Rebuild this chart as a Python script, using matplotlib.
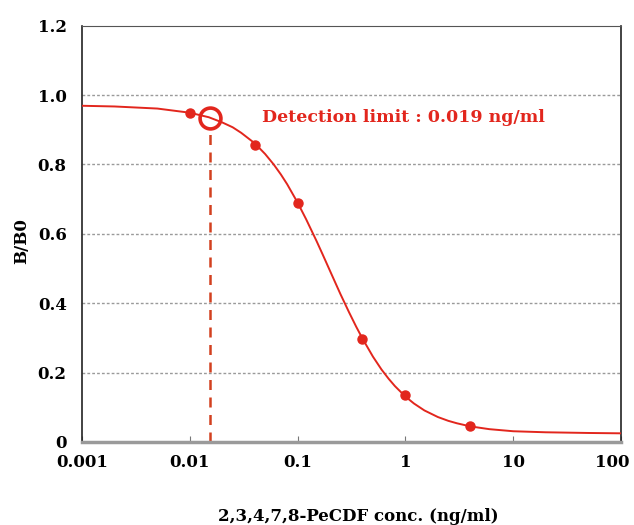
import numpy as np
import matplotlib.pyplot as plt
from matplotlib.transforms import ScaledTranslation

# standards (conc. in ng/ml) and measured B/B0
conc = [0.01, 0.04, 0.1, 0.4, 1, 4]
bb0 = [0.948, 0.856, 0.689, 0.297, 0.135, 0.046]

# fitted curve
curve_x = [0.001, 0.002, 0.005, 0.01, 0.015, 0.02, 0.025, 0.03, 0.04, 0.05,
           0.06, 0.07, 0.08, 0.1, 0.12, 0.15, 0.17, 0.2, 0.23, 0.25,
           0.3, 0.35, 0.4, 0.5, 0.6, 0.7, 0.8, 1, 1.2, 1.5,
           2, 2.5, 3, 4, 6, 10, 20, 50, 100]
curve_y = [0.969, 0.967, 0.961, 0.949, 0.936, 0.921, 0.907, 0.891, 0.861, 0.830,
           0.800, 0.771, 0.743, 0.690, 0.642, 0.579, 0.542, 0.493, 0.451, 0.426,
           0.374, 0.332, 0.298, 0.246, 0.209, 0.182, 0.161, 0.131, 0.111, 0.091,
           0.072, 0.061, 0.054, 0.045, 0.037, 0.031, 0.028, 0.026, 0.025]

# detection limit marker
lod_x = 0.0155
lod_y = 0.934
lod_text = 'Detection limit : 0.019 ng/ml'

xticks = [0.001, 0.01, 0.1, 1, 10, 100]
xtick_labels = ['0.001', '0.01', '0.1', '1', '10', '100']
yticks = [0, 0.2, 0.4, 0.6, 0.8, 1.0, 1.2]
ytick_labels = ['0', '0.2', '0.4', '0.6', '0.8', '1.0', '1.2']

red = '#e2261d'
plt.rcParams['font.family'] = ['DejaVu Serif']

fig = plt.figure(figsize=(6.34, 5.25), dpi=100)
ax = fig.add_axes([0.1293, 0.1581, 0.8502, 0.7931])

for y in yticks[1:-1]:
    ax.axhline(y, color='#9a9a9a', lw=1.0, ls=(0, (2, 1.5)), zorder=1)

ax.plot(curve_x, curve_y, color=red, lw=1.4, zorder=3)
ax.plot(conc, bb0, 'o', color=red, ms=6.5, zorder=4)

ax.plot([lod_x, lod_x], [0, lod_y - 0.035], color='#d2401f', lw=1.8,
        ls=(0, (4, 3)), zorder=2)
ax.plot(lod_x, lod_y, 'o', mfc='none', mec=red, ms=15, mew=2.6, zorder=5)
ax.text(0.047, lod_y, lod_text, color=red, fontsize=12.5, fontweight='bold',
        va='center', ha='left')

ax.set_xscale('log')
ax.set_xlim(0.001, 100)
ax.set_ylim(0, 1.2)
ax.set_xticks(xticks)
ax.set_xticklabels(xtick_labels, fontweight='bold')
ax.set_yticks(yticks)
ax.set_yticklabels(ytick_labels, fontweight='bold')
ax.minorticks_off()
ax.tick_params(axis='x', direction='in', length=4, color='#777777',
               labelsize=12, pad=9)
ax.tick_params(axis='y', length=0, labelsize=12, pad=11)

# the "100" label sits a bit left of its tick in the original
last = ax.get_xticklabels()[-1]
last.set_transform(last.get_transform() + ScaledTranslation(-0.09, 0, fig.dpi_scale_trans))

for side in ['left', 'right']:
    ax.spines[side].set_color('#222222')
    ax.spines[side].set_linewidth(1.2)
ax.spines['top'].set_color('#555555')
ax.spines['bottom'].set_color('#9a9a9a')
ax.spines['bottom'].set_linewidth(2.5)

ax.set_ylabel('B/B0', fontsize=12, fontweight='bold', va='center')
ax.yaxis.set_label_coords(-0.111, 0.483)
ax.set_xlabel('2,3,4,7,8-PeCDF conc. (ng/ml)', fontsize=12, fontweight='bold',
              va='center')
ax.xaxis.set_label_coords(0.512, -0.18)

fig.savefig('out.png', dpi=100)
